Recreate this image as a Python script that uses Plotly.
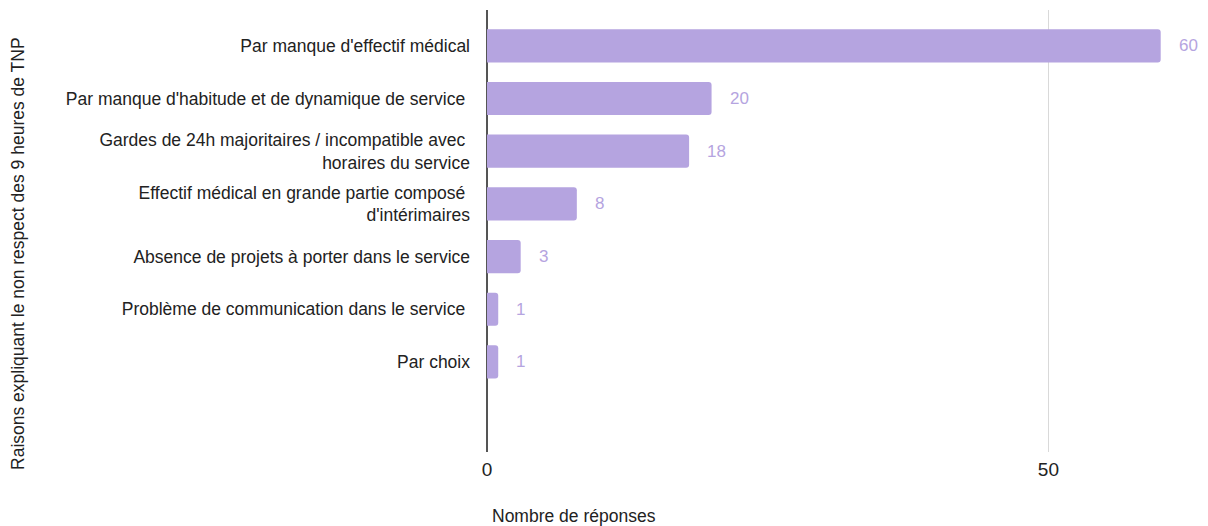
import plotly.graph_objects as go

categories = [
    "Par manque d'effectif médical",
    "Par manque d'habitude et de dynamique de service\u00a0",
    "Gardes de 24h majoritaires / incompatible avec\u00a0<br>horaires du service",
    "Effectif médical en grande partie composé\u00a0<br>d'intérimaires",
    "Absence de projets à porter dans le service",
    "Problème de communication dans le service\u00a0",
    "Par choix",
]
values = [60, 20, 18, 8, 3, 1, 1]
x_ticks = [0, 50]

bar_color = "#b5a4e0"
font_family = "Liberation Sans, Arial, sans-serif"

fig = go.Figure()
fig.add_trace(go.Bar(
    x=values,
    y=categories,
    orientation="h",
    marker=dict(color=bar_color, line=dict(width=0)),
    width=0.63,
    hoverinfo="x+y",
))

for v, c in zip(values, categories):
    fig.add_annotation(
        x=v, y=c, xref="x", yref="y",
        text=str(v), showarrow=False,
        xanchor="left", xshift=16,
        font=dict(size=17, color=bar_color, family=font_family),
    )

fig.add_annotation(
    x=0, xref="x", xanchor="left", xshift=3,
    y=-0.145, yref="paper", yanchor="middle",
    text="Nombre de réponses", showarrow=False,
    font=dict(size=17.5, color="#222222", family=font_family),
)
fig.add_annotation(
    x=0, xref="paper", xshift=-469,
    y=0.448, yref="paper",
    text="Raisons expliquant le non respect des 9 heures de TNP",
    textangle=-90, showarrow=False,
    xanchor="center", yanchor="middle",
    font=dict(size=17.5, color="#222222", family=font_family),
)

fig.update_layout(
    width=1200, height=518,
    margin=dict(l=479, r=8, t=2, b=74),
    paper_bgcolor="white",
    plot_bgcolor="white",
    showlegend=False,
    barcornerradius=3,
    font=dict(family=font_family, size=17.5, color="#222222"),
    xaxis=dict(
        range=[0, 63.5],
        tickvals=x_ticks,
        ticktext=[str(t) for t in x_ticks],
        showgrid=True,
        gridcolor="#d9d9d9",
        gridwidth=1.2,
        zeroline=True,
        zerolinecolor="#555555",
        zerolinewidth=1.5,
        tickfont=dict(size=19, color="#222222"),
        ticklabelstandoff=4,
        fixedrange=True,
    ),
    yaxis=dict(
        type="category",
        categoryorder="array",
        categoryarray=categories,
        range=[7.71, -0.68],
        showgrid=False,
        zeroline=False,
        tickfont=dict(size=17.5, color="#222222"),
        ticklabelstandoff=16,
        fixedrange=True,
    ),
)

fig.write_html("out.html")
